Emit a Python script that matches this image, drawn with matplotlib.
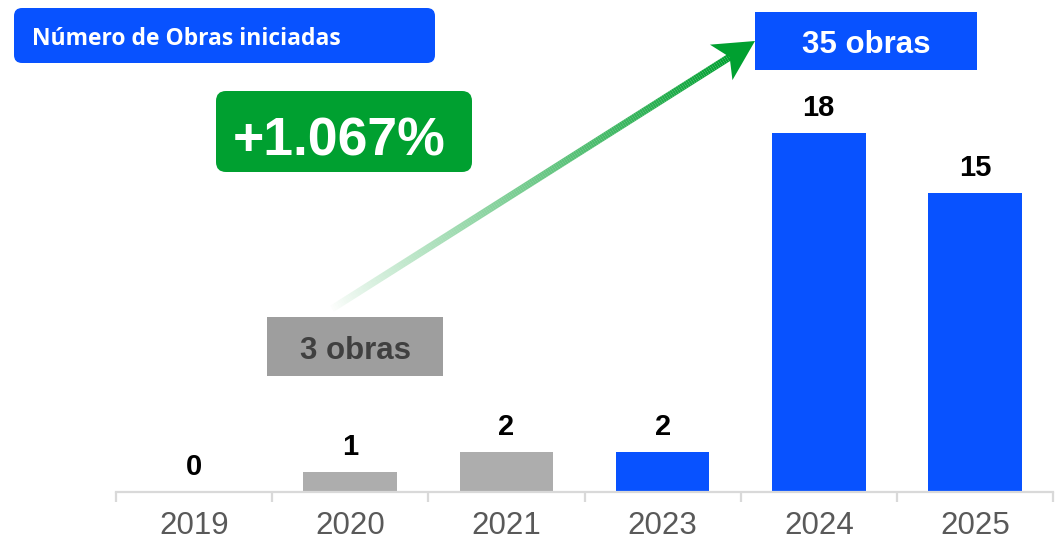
import matplotlib
matplotlib.use("Agg")
import matplotlib.pyplot as plt
import numpy as np
from matplotlib.patches import FancyBboxPatch, Polygon
from matplotlib.collections import LineCollection
from matplotlib.transforms import Affine2D

# ---- data ----
years = ["2019", "2020", "2021", "2023", "2024", "2025"]
obras = [0, 1, 2, 2, 18, 15]
bar_colors = ["#ADADAD", "#ADADAD", "#ADADAD", "#0852FF", "#0852FF", "#0852FF"]
title_text = "Número de Obras iniciadas"
growth_text = "+1.067%"
start_text = "3 obras"
end_text = "35 obras"

BLUE = "#0852FF"
GREEN = "#00A030"
W, H = 1056, 552

fig = plt.figure(figsize=(W / 100, H / 100), dpi=100)
ax = fig.add_axes([116 / W, 60 / H, 937 / W, 492 / H])
x = np.arange(len(years))
bars = ax.bar(x, obras, width=0.6, color=bar_colors, zorder=2)
ax.set_xlim(-0.5, len(years) - 0.5)
ax.set_ylim(0, 24.67)
for s in ["top", "right", "left"]:
    ax.spines[s].set_visible(False)
ax.spines["bottom"].set_color("#D9D9D9")
ax.spines["bottom"].set_linewidth(1.6)
ax.set_yticks([])
ax.set_xticks(x)
ax.set_xticklabels(years, fontsize=22.5, color="#595959", family="Liberation Sans")
ax.tick_params(axis="x", which="major", length=0, pad=14)
ax.set_xticks(np.arange(len(years) + 1) - 0.5, minor=True)
ax.tick_params(axis="x", which="minor", length=7.5, width=1.6, color="#D9D9D9")
ax.bar_label(bars, labels=[str(v) for v in obras], padding=8, fontsize=21,
             fontweight="bold", color="black", family="Liberation Sans")

# pixel transform (origin top-left)
T = Affine2D().scale(1, -1).translate(0, H).scale(1 / 100) + fig.dpi_scale_trans

def box(x0, y0, x1, y1, color, r=0):
    style = f"round,pad=0,rounding_size={r}" if r else "square,pad=0"
    p = FancyBboxPatch((x0, y0), x1 - x0, y1 - y0, boxstyle=style,
                       facecolor=color, edgecolor="none", transform=T, zorder=5)
    fig.add_artist(p)

# title box
box(14, 8, 435, 63, BLUE, r=8)
fig.text(32, 45, title_text, transform=T, color="white", fontsize=16.5,
         fontweight="bold", family="Open Sans", va="baseline", ha="left", zorder=6)

# green growth box
box(216, 91, 472, 172, GREEN, r=10)
fig.text(339, 155, growth_text, transform=T, color="white", fontsize=38.5,
         fontweight="bold", family="Liberation Sans", va="baseline", ha="center", zorder=6)

# end box
box(755, 12, 977, 70, BLUE)
fig.text(866, 53, end_text, transform=T, color="white", fontsize=22.5,
         fontweight="bold", family="Liberation Sans", va="baseline", ha="center", zorder=6)

# start box
box(267, 317, 443, 376, "#9E9E9E")
fig.text(355, 359, start_text, transform=T, color="#404040", fontsize=22.5,
         fontweight="bold", family="Liberation Sans", va="baseline", ha="center", zorder=6)

# gradient arrow
start = np.array([330.0, 310.0])
tip = np.array([755.0, 41.0])
u = (tip - start) / np.linalg.norm(tip - start)
perp = np.array([-u[1], u[0]])
notch = tip - 30 * u
base = tip - 40 * u
n = 200
pts = start + np.linspace(0, 1, n + 1)[:, None] * (notch + 2 * u - start)
segs = np.stack([pts[:-1], pts[1:]], axis=1)
alphas = np.linspace(0.0, 1.0, n) ** 0.85
rgb = matplotlib.colors.to_rgb(GREEN)
cols = [(rgb[0], rgb[1], rgb[2], a) for a in alphas]
lc = LineCollection(segs, colors=cols, linewidths=5.2, capstyle="butt", transform=T, zorder=4)
fig.add_artist(lc)
head = Polygon([tip, base + 21 * perp, notch, base - 21 * perp], closed=True,
               facecolor=GREEN, edgecolor="none", transform=T, zorder=4)
fig.add_artist(head)

fig.savefig("out.png", dpi=100)
